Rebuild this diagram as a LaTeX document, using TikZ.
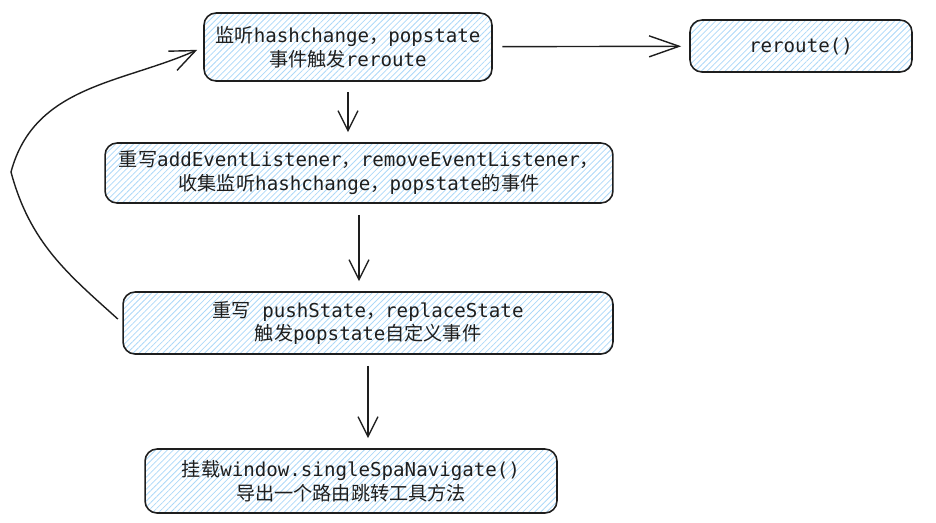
\documentclass[tikz,border=0pt]{standalone}
\usepackage{fontspec}
\usepackage{tikz}
\usetikzlibrary{arrows.meta, patterns.meta}
\newfontfamily\codefont{DejaVu Sans Mono}
\newfontfamily\cjk{Noto Sans CJK SC}
\newcommand{\zh}[1]{{\cjk #1}}
\definecolor{inkgray}{RGB}{30,30,30}
\definecolor{hatchblue}{RGB}{172,216,248}

\begin{document}
\begin{tikzpicture}[x=0.02cm, y=-0.02cm,
            box/.style={draw=inkgray, line width=0.9pt, rounded corners=0.24cm, pattern={Lines[angle=45, distance=2.4pt, line width=0.45pt]}, pattern color=hatchblue, align=center, text=inkgray, font=\codefont\fontsize{10.9}{13.6}\selectfont},
            flow/.style={draw=inkgray, line width=0.8pt, -{Straight Barb[length=0.4cm, width=0.4cm]}, shorten <=0.22cm, shorten >=0.2cm}
        ]
            \useasboundingbox (0,0) rectangle (936,522);

            % Steps
            \node (lsn) at (348,47) [box, minimum width=5.76cm, minimum height=1.36cm] {\zh{监听}hashchange\zh{，}popstate\\\zh{事件触发}reroute};
            \node (rrt) at (801,46) [box, minimum width=4.44cm, minimum height=1.04cm] {reroute()};
            \node (ovr) at (359,173) [box, minimum width=10.16cm, minimum height=1.2cm] {\zh{重写}addEventListener\zh{，}removeEventListener\zh{，}\\\zh{收集监听}hashchange\zh{，}popstate\zh{的事件}};
            \node (hst) at (368,323) [box, minimum width=9.8cm, minimum height=1.24cm] {\zh{重写} pushState\zh{，}replaceState\\\zh{触发}popstate\zh{自定义事件}};
            \node (nav) at (351,481) [box, minimum width=8.24cm, minimum height=1.28cm] {\zh{挂载}window.singleSpaNavigate()\\\zh{导出一个路由跳转工具方法}};

            % Arrows
            \draw [flow, -{Straight Barb[length=0.6cm, width=0.42cm]}, shorten <=0.2cm, shorten >=0.16cm] (lsn) -- (rrt);
            \draw [flow] (lsn.south) -- (lsn.south |- ovr.north);
            \draw [flow] (ovr.south) -- (ovr.south |- hst.north);
            \draw [flow] (hst.south) -- (hst.south |- nav.north);

            % Loop back to the listener
            \coordinate (bend) at (11,172);
            \draw [flow, -{Straight Barb[length=0.5cm, width=0.42cm]}, shorten <=0.12cm, shorten >=0.14cm] (hst.west) to[out=138, in=285] (bend) to[out=75, in=204] (lsn.west);
        \end{tikzpicture}
\end{document}
